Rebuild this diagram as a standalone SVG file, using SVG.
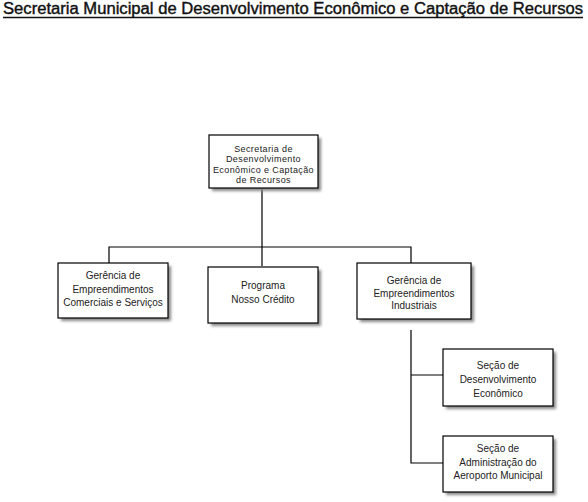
<svg xmlns="http://www.w3.org/2000/svg" width="588" height="502" viewBox="0 0 588 502">
<defs>
<filter id="sh" x="-20%" y="-20%" width="140%" height="140%">
<feGaussianBlur stdDeviation="1.5"/>
</filter>
</defs>
<style>
.box{fill:#fff;stroke:#000;stroke-width:1.2}
.shadow{fill:#888;filter:url(#sh)}
.t{font-family:"Liberation Sans","DejaVu Sans",sans-serif;font-size:10px;fill:#222;text-anchor:middle}
.ts{font-family:"Liberation Sans","DejaVu Sans",sans-serif;font-size:9px;letter-spacing:0.4px;fill:#222;text-anchor:middle}
.title{font-family:"Liberation Sans","DejaVu Sans",sans-serif;font-size:16px;fill:#111;stroke:#111;stroke-width:0.4}
.c{stroke:#000;stroke-width:1.2;fill:none}
</style>
<rect width="588" height="502" fill="#fff"/>
<g id="title">
<text class="title" x="3" y="14" textLength="580" lengthAdjust="spacingAndGlyphs">Secretaria Municipal de Desenvolvimento Econômico e Captação de Recursos</text>
<line x1="3" y1="17.5" x2="583" y2="17.5" stroke="#111" stroke-width="1.3"/>
</g>
<g id="connectors">
<path class="c" d="M262 188V247M109 265V247H411V263M262 247V266"/>
<path class="c" d="M411 330V463H443M411 375H443"/>
</g>
<g id="n-secretaria">
<rect class="shadow" x="212" y="138" width="109" height="53"/>
<rect class="box" x="209" y="135" width="109" height="53"/>
<text class="ts" x="263.5" y="151.5">Secretaria de</text>
<text class="ts" x="263.5" y="162">Desenvolvimento</text>
<text class="ts" x="263.5" y="172.5">Econômico e Captação</text>
<text class="ts" x="263.5" y="183">de Recursos</text>
</g>
<g id="n-comerciais">
<rect class="shadow" x="61" y="266" width="110" height="55"/>
<rect class="box" x="58" y="263" width="110" height="55"/>
<text class="t" x="113" y="279">Gerência de</text>
<text class="t" x="113" y="293">Empreendimentos</text>
<text class="t" x="113" y="306">Comerciais e Serviços</text>
</g>
<g id="n-programa">
<rect class="shadow" x="211" y="270" width="110" height="56"/>
<rect class="box" x="208" y="267" width="110" height="56"/>
<text class="t" x="263" y="289">Programa</text>
<text class="t" x="263" y="303">Nosso Crédito</text>
</g>
<g id="n-industriais">
<rect class="shadow" x="360" y="266" width="114" height="56"/>
<rect class="box" x="357" y="263" width="114" height="56"/>
<text class="t" x="414" y="284">Gerência de</text>
<text class="t" x="414" y="297">Empreendimentos</text>
<text class="t" x="414" y="309">Industriais</text>
</g>
<g id="n-desenvolvimento">
<rect class="shadow" x="446" y="352" width="110" height="57"/>
<rect class="box" x="443" y="349" width="110" height="57"/>
<text class="t" x="498" y="369">Seção de</text>
<text class="t" x="498" y="383">Desenvolvimento</text>
<text class="t" x="498" y="397">Econômico</text>
</g>
<g id="n-aeroporto">
<rect class="shadow" x="446" y="439" width="110" height="56"/>
<rect class="box" x="443" y="436" width="110" height="56"/>
<text class="t" x="498" y="452">Seção de</text>
<text class="t" x="498" y="466">Administração do</text>
<text class="t" x="498" y="479">Aeroporto Municipal</text>
</g>
</svg>
